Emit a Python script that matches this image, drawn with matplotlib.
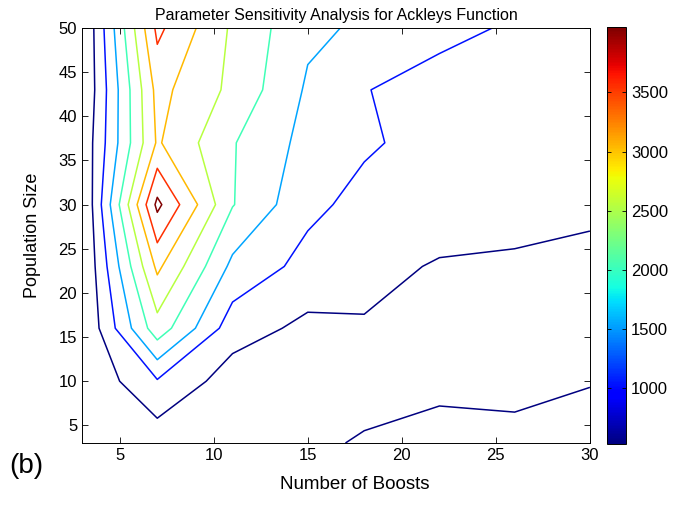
import numpy as np
import matplotlib
matplotlib.use("Agg")
import matplotlib.pyplot as plt
from matplotlib import colors, cm

plt.rcParams['font.family'] = ['Liberation Sans', 'DejaVu Sans']

# grid of the experiment
boosts = [3, 7, 11, 15, 18, 22, 26, 30]
pop_size = [3, 10, 16, 23, 30, 37, 43, 50]

values = [
    [27, 223, 279, 379, 605, 681, 656, 756],
    [72, 988, 284, 228, 228, 429, 404, 505],
    [2, 2336, 756, 414, 480, 354, 329, 304],
    [-23, 3156, 1410, 862, 701, 480, 429, 379],
    [-48, 4177, 2064, 1159, 877, 832, 782, 643],
    [107, 3105, 2074, 1370, 1103, 847, 807, 756],
    [-13, 3206, 2421, 1466, 1058, 782, 807, 756],
    [-53, 3669, 2462, 1637, 1461, 1209, 958, 832],
]

c_min, c_max = 530, 4050
levels = np.linspace(c_min, c_max, 8)
cbar_ticks = [1000, 1500, 2000, 2500, 3000, 3500]
x_ticks = [5, 10, 15, 20, 25, 30]
y_ticks = [5, 10, 15, 20, 25, 30, 35, 40, 45, 50]

X, Y = np.meshgrid(boosts, pop_size)
Z = np.array(values, dtype=float)

fig = plt.figure(figsize=(6.79, 5.07), dpi=100)
ax = fig.add_axes([0.1208, 0.1262, 0.748, 0.8185])
cax = fig.add_axes([0.894, 0.124, 0.028, 0.822])

norm = colors.Normalize(vmin=c_min, vmax=c_max)
ax.contour(X, Y, Z, levels=levels, cmap='jet', norm=norm, linewidths=1.1)

ax.set_xlim(3, 30)
ax.set_ylim(3, 50)
ax.set_xticks(x_ticks)
ax.set_yticks(y_ticks)
ax.tick_params(direction='in', top=True, right=True, length=4, labelsize=12, width=0.6)
for s in ax.spines.values():
    s.set_linewidth(0.7)
ax.set_xlabel('Number of Boosts', fontsize=13.5)
ax.xaxis.set_label_coords(0.537, -0.08)
ax.set_ylabel('Population Size', fontsize=13)
ax.yaxis.set_label_coords(-0.08, 0.5)
ax.set_title('Parameter Sensitivity Analysis for Ackleys Function', fontsize=11.5, pad=6)

sm = cm.ScalarMappable(norm=norm, cmap='jet')
cb = fig.colorbar(sm, cax=cax, ticks=cbar_ticks)
cb.outline.set_linewidth(0.7)
cax.tick_params(direction='in', left=True, right=True, length=3, labelsize=12, width=0.6)

fig.text(0.014, 0.081, '(b)', fontsize=20, ha='left', va='center')

fig.savefig('out.png', dpi=100)
